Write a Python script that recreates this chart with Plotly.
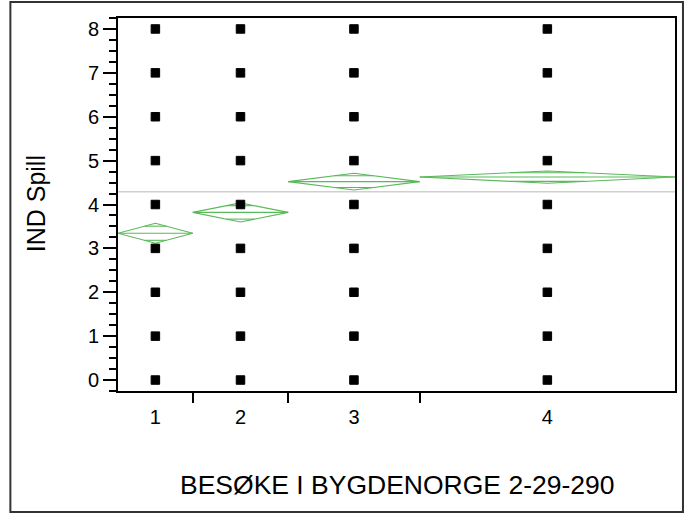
import plotly.graph_objects as go

# ---- data ----
groups = ["1", "2", "3", "4"]
n_obs = [29, 37, 51, 99]                 # relative group sizes (diamond widths)
group_means = [3.345, 3.82, 4.522, 4.625]
ci_half = [0.228, 0.217, 0.19, 0.14]     # half height of the means diamonds
grand_mean = 4.29
point_values = [0, 1, 2, 3, 4, 5, 6, 7, 8]   # observed values in every group
y_ticks = [0, 1, 2, 3, 4, 5, 6, 7, 8]

# ---- derived positions ----
edges = [0]
for n in n_obs:
    edges.append(edges[-1] + n)
centers = [(edges[i] + edges[i + 1]) / 2 for i in range(len(n_obs))]
total = edges[-1]

GREEN = "rgb(90,185,90)"
FONT = "Liberation Sans, Arial, sans-serif"

fig = go.Figure()

# grand mean line
fig.add_trace(go.Scatter(x=[0, total], y=[grand_mean, grand_mean], mode="lines",
                         line=dict(color="#d0d0d0", width=1.5), hoverinfo="skip",
                         showlegend=False))

# means diamonds with mean line and overlap marks
dx, dy = [], []
k = 2 ** 0.5 / 2
for i in range(len(groups)):
    x0, x1, xc = edges[i], edges[i + 1], centers[i]
    m, h = group_means[i], ci_half[i]
    dx += [x0, xc, x1, xc, x0, None, x0, x1, None]
    dy += [m, m + h, m, m - h, m, None, m, m, None]
    hw = (1 - k) * (x1 - x0) / 2
    for s in (1, -1):
        dx += [xc - hw, xc + hw, None]
        dy += [m + s * k * h, m + s * k * h, None]
fig.add_trace(go.Scatter(x=dx, y=dy, mode="lines", line=dict(color=GREEN, width=1.1),
                         hoverinfo="skip", showlegend=False))

# observations
px, py = [], []
for i in range(len(groups)):
    for v in point_values:
        px.append(centers[i])
        py.append(v)
fig.add_trace(go.Scatter(x=px, y=py, mode="markers",
                         marker=dict(symbol="square", size=8.5, color="black",
                                     line=dict(color="black", width=1)),
                         showlegend=False))

# invisible trace for the label axis
fig.add_trace(go.Scatter(x=centers, y=[grand_mean] * 4, xaxis="x2", mode="markers",
                         marker=dict(opacity=0), hoverinfo="skip", showlegend=False))

fig.update_layout(
    width=686, height=513,
    margin=dict(l=118, r=9, t=18, b=122),
    paper_bgcolor="white", plot_bgcolor="white",
    font=dict(family=FONT, size=20, color="black"),
    xaxis=dict(range=[0, total], tickmode="array", tickvals=edges[1:-1],
               ticktext=["", "", ""], ticks="outside", ticklen=10, tickwidth=2,
               tickcolor="black", showgrid=False, zeroline=False,
               showline=True, linecolor="black", linewidth=2, mirror=True),
    xaxis2=dict(range=[0, total], overlaying="x", side="bottom", anchor="y",
                tickmode="array", tickvals=centers, ticktext=groups, ticks="",
                showgrid=False, zeroline=False, showline=False,
                ticklabelstandoff=12, tickfont=dict(size=20)),
    yaxis=dict(range=[-0.25, 8.25], tickmode="array", tickvals=y_ticks,
               ticks="outside", ticklen=13, tickwidth=2, tickcolor="black",
               minor=dict(dtick=0.25, ticks="outside", ticklen=7, tickwidth=1.5,
                          tickcolor="black", showgrid=False),
               showgrid=False, zeroline=False, showline=True, linecolor="black",
               linewidth=2, mirror=True, tickfont=dict(size=20)),
    annotations=[
        dict(text="IND Spill", xref="paper", yref="paper", x=(36 - 118) / 559,
             y=(391 - 204) / 373, textangle=-90, showarrow=False,
             xanchor="center", yanchor="middle", font=dict(size=25)),
        dict(text="BESØKE I BYGDENORGE 2-29-290", xref="paper", yref="paper",
             x=0.5, y=(391 - 484.5) / 373, showarrow=False,
             xanchor="center", yanchor="middle", font=dict(size=26.5)),
    ],
    shapes=[
        dict(type="rect", xref="paper", yref="paper",
             x0=(10 - 118) / 559, x1=(685 - 118) / 559,
             y0=(391 - 512) / 373, y1=(391 - 2) / 373,
             line=dict(color="#333333", width=2), fillcolor="rgba(0,0,0,0)"),
    ],
)

fig.write_html("out.html", config={"displayModeBar": False},
               post_script="document.body.style.margin='0';")
